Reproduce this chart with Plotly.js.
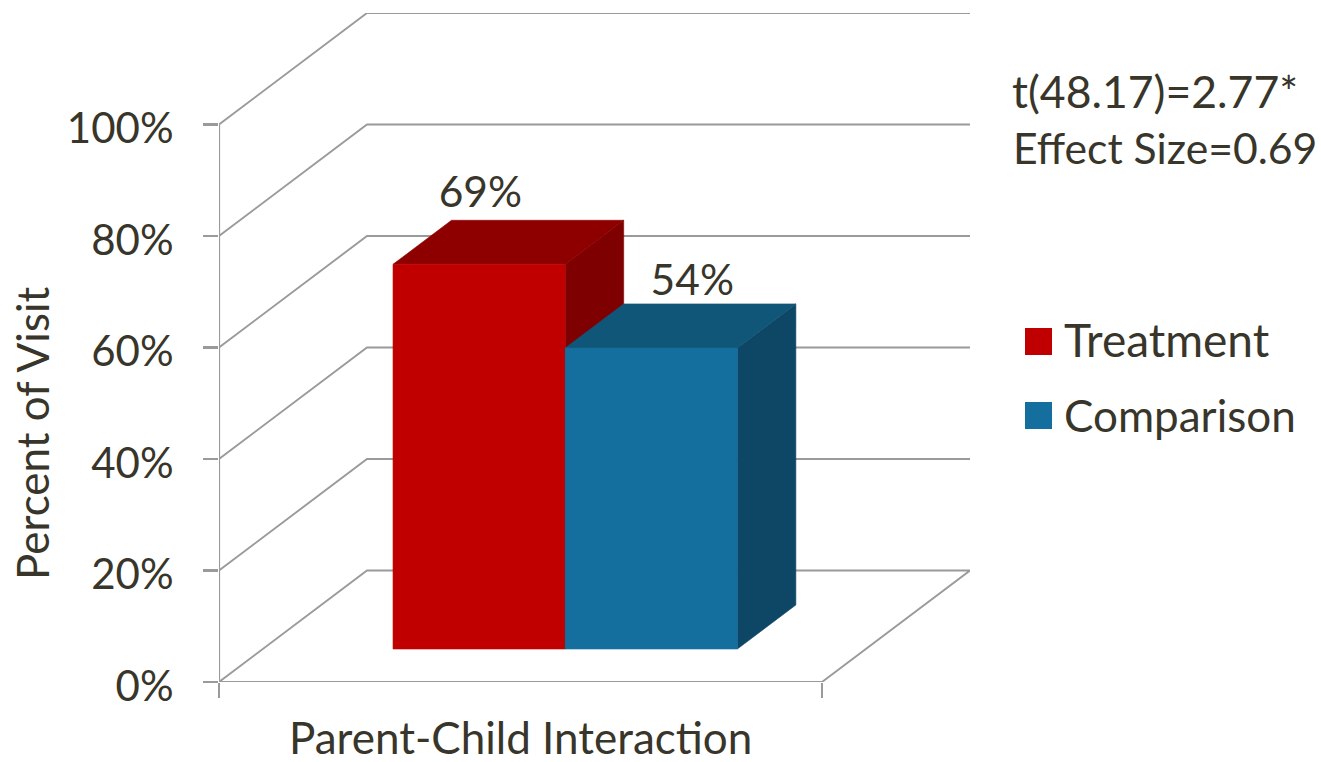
<!DOCTYPE html>
<html>
<head>
<meta charset="utf-8">
<script src="https://cdn.plot.ly/plotly-3.0.1.min.js"></script>
<style>html,body{margin:0;padding:0;background:#fff;overflow:hidden}</style>
</head>
<body>
<div id="chart" style="width:1321px;height:762px"></div>
<script>
// Chart content
const category = "Parent-Child Interaction";
const seriesNames = ["Treatment", "Comparison"];
const seriesValues = [69, 54];
const valueLabels = ["69%", "54%"];
const tickValues = [0, 20, 40, 60, 80, 100];
const tickLabels = ["0%", "20%", "40%", "60%", "80%", "100%"];
const yAxisTitle = "Percent of Visit";
const statLines = ["t(48.17)=2.77*", "Effect Size=0.69"];

// Oblique projection: how far the back wall sits from the front plane, in axis units
const wallShiftX = 0.2454, wallShiftY = 20;
// Bars start part of the way into the floor and have a fixed footprint
const barFloorY = 5.92, barStartX = 0.2886, barWidth = 0.2855, barDepthX = 0.097, barDepthY = 7.9;
// Offset of each value label from the centre of its bar's front face and from the top of the bar
const labelNudgeX = [0.002, 0.068];
const labelGapY = [0.4, -0.3];

const faces = [
  {front: "#C00000", top: "#8E0000", side: "#7F0000"},
  {front: "#146E9E", top: "#105678", side: "#0E4765"}
];
const ink = "#38352A", gridColor = "#9A9A9A", fontFamily = "Lato, Carlito, sans-serif";

const traces = [];
function polyline(x, y, width) {
  traces.push({type: "scatter", mode: "lines", x, y, showlegend: false, hoverinfo: "skip", cliponaxis: false,
               line: {color: gridColor, width: width || 1.9}});
}
function face(x, y, color, name) {
  traces.push({type: "scatter", mode: "lines", x, y, fill: "toself", fillcolor: color, name,
               line: {color, width: 0.6}, showlegend: false, hoverinfo: "name", cliponaxis: false});
}

// Walls and floor outline
tickValues.forEach(v => {
  if (v === 0) return;
  polyline([0, wallShiftX, 1 + wallShiftX], [v, v + wallShiftY, v + wallShiftY]);
});
polyline([0, wallShiftX, 1 + wallShiftX, 1, 0], [0, wallShiftY, wallShiftY, 0, 0]);
polyline([0, 0], [0, tickValues[tickValues.length - 1]], 2.2);

// Each bar is three faces projected from its value
seriesValues.forEach((value, i) => {
  const x0 = barStartX + i * barWidth, x1 = x0 + barWidth;
  const y0 = barFloorY, y1 = barFloorY + value;
  const dx = barDepthX, dy = barDepthY, c = faces[i], name = seriesNames[i];
  face([x1, x1 + dx, x1 + dx, x1, x1], [y0, y0 + dy, y1 + dy, y1, y0], c.side, name);
  face([x0, x0 + dx, x1 + dx, x1, x0], [y1, y1 + dy, y1 + dy, y1, y1], c.top, name);
  face([x0, x1, x1, x0, x0], [y0, y0, y1, y1, y0], c.front, name);
});

// Value labels sit above the top face of each bar
traces.push({
  type: "scatter", mode: "text", showlegend: false, hoverinfo: "skip", cliponaxis: false,
  x: seriesValues.map((_, i) => barStartX + i * barWidth + barWidth / 2 + labelNudgeX[i]),
  y: seriesValues.map((v, i) => barFloorY + v + barDepthY + labelGapY[i]),
  text: valueLabels, textposition: "top center",
  textfont: {family: fontFamily, size: 42.5, color: ink}
});

const textFont = {family: fontFamily, size: 44, color: ink};
const layout = {
  width: 1321, height: 762, autosize: false,
  margin: {l: 219, r: 351, t: 13, b: 80, pad: 0},
  paper_bgcolor: "#fff", plot_bgcolor: "rgba(0,0,0,0)",
  showlegend: false,
  xaxis: {
    range: [0, 1 + wallShiftX], showgrid: false, zeroline: false, showline: false,
    tickmode: "array", tickvals: [0, 1], ticktext: ["", ""], ticks: "outside",
    ticklen: 15, tickwidth: 2.2, tickcolor: gridColor, fixedrange: true
  },
  yaxis: {
    range: [0, 100 + wallShiftY], showgrid: false, zeroline: false, showline: false,
    tickmode: "array", tickvals: tickValues, ticktext: tickLabels, ticks: "outside",
    ticklen: 15, tickwidth: 2.2, tickcolor: gridColor, ticklabelstandoff: 21, ticklabelshift: 4,
    tickfont: {family: fontFamily, size: 42, color: ink}, fixedrange: true
  },
  annotations: [
    {xref: "x", yref: "paper", x: 0.5, y: 0, yshift: -83, text: category, showarrow: false, font: textFont},
    {xref: "paper", yref: "y", x: 0, xshift: -215, y: 44.5, text: yAxisTitle, textangle: -90, showarrow: false, font: textFont},
    {xref: "paper", yref: "paper", x: 1, xshift: 40, xanchor: "left", y: 1, yshift: -77, yanchor: "middle",
     text: statLines[0], showarrow: false, align: "left", font: {family: fontFamily, size: 44.5, color: ink}},
    {xref: "paper", yref: "paper", x: 1, xshift: 41, xanchor: "left", y: 1, yshift: -134, yanchor: "middle",
     text: statLines[1], showarrow: false, align: "left", font: {family: fontFamily, size: 42.7, color: ink}},
    {xref: "paper", yref: "paper", x: 1, xshift: 92, xanchor: "left", y: 1, yshift: -326, yanchor: "middle",
     text: seriesNames[0], showarrow: false, font: {family: fontFamily, size: 46, color: ink}},
    {xref: "paper", yref: "paper", x: 1, xshift: 92, xanchor: "left", y: 1, yshift: -402, yanchor: "middle",
     text: seriesNames[1], showarrow: false, font: textFont}
  ],
  // Legend swatches
  shapes: seriesNames.map((_, i) => ({
    type: "rect", xref: "paper", yref: "paper",
    x0: (1025 - 219) / 751, x1: (1052 - 219) / 751,
    y0: (682 - (355 + i * 74)) / 669, y1: (682 - (328 + i * 74)) / 669,
    fillcolor: faces[i].front, line: {width: 0}
  }))
};

Plotly.newPlot("chart", traces, layout, {displayModeBar: false, staticPlot: true});
</script>
</body>
</html>
